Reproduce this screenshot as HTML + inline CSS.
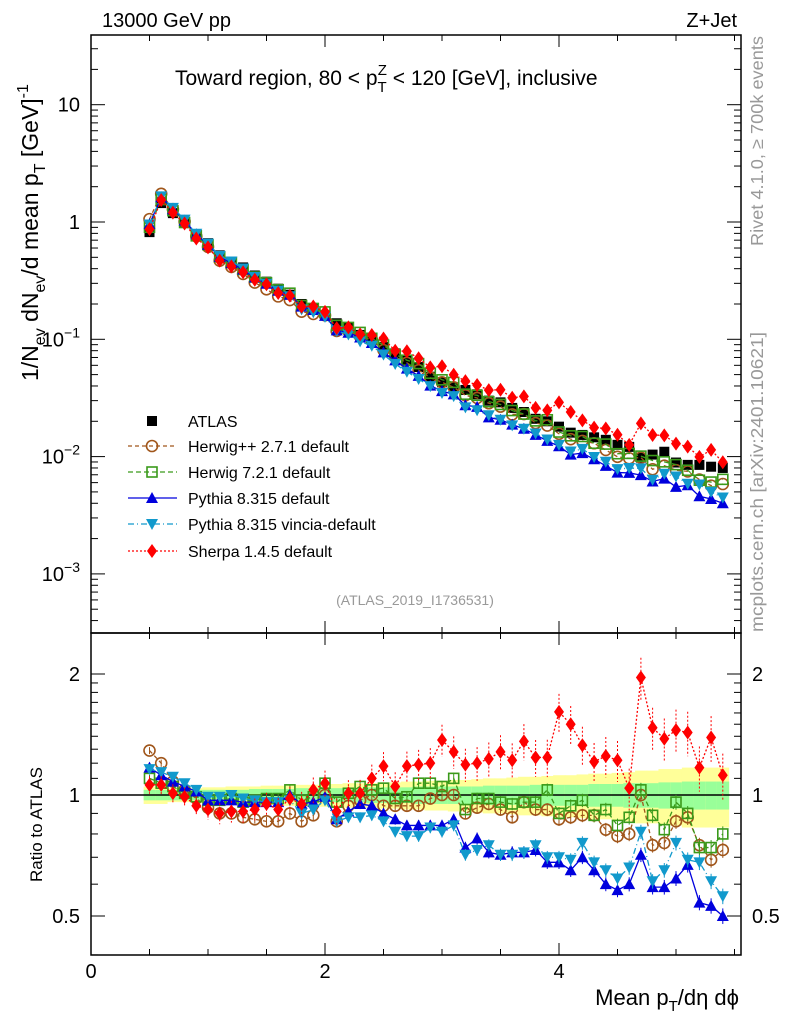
<!DOCTYPE html>
<html><head><meta charset="utf-8">
<style>
html,body{margin:0;padding:0;background:#fff;}
svg{display:block;font-family:"Liberation Sans","DejaVu Sans",sans-serif;}
</style></head>
<body>
<svg id="chart" width="786" height="1024" viewBox="0 0 786 1024" xmlns="http://www.w3.org/2000/svg">
<rect x="0" y="0" width="786" height="1024" fill="#fff"/>
<g id="bands"></g>
<g id="marks"></g>
<g id="axes"></g>
<text x="102" y="27" font-size="20">13000 GeV pp</text>
<text x="737" y="27" font-size="20" text-anchor="end">Z+Jet</text>
<text x="175" y="85" font-size="21">Toward region, 80 &lt; p<tspan font-size="15" dy="7">T</tspan><tspan font-size="15" dx="-9" dy="-17">Z</tspan><tspan dy="10"> &lt; 120 [GeV], inclusive</tspan></text>
<text x="415" y="605" font-size="14" fill="#999" text-anchor="middle">(ATLAS_2019_I1736531)</text>
<text transform="translate(763,246) rotate(-90)" font-size="17.5" fill="#999" textLength="210" lengthAdjust="spacingAndGlyphs">Rivet 4.1.0, ≥ 700k events</text>
<text transform="translate(763,632) rotate(-90)" font-size="17.5" fill="#999" textLength="300" lengthAdjust="spacingAndGlyphs">mcplots.cern.ch [arXiv:2401.10621]</text>
<text transform="translate(38,381) rotate(-90)" font-size="23">1/N<tspan font-size="16" dy="7">ev</tspan><tspan dy="-7"> dN</tspan><tspan font-size="16" dy="7">ev</tspan><tspan dy="-7">/d mean p</tspan><tspan font-size="16" dy="7">T</tspan><tspan dy="-7"> [GeV]</tspan><tspan font-size="16" dy="-10">-1</tspan></text>
<text transform="translate(42,882) rotate(-90)" font-size="17">Ratio to ATLAS</text>
<text x="739" y="1005" font-size="22" text-anchor="end">Mean p<tspan font-size="15" dy="6">T</tspan><tspan dy="-6">/dη dϕ</tspan></text>
<g id="legend"></g>
</svg>
<script>
const xCenters=[0.5,0.6,0.7,0.8,0.9,1.0,1.1,1.2,1.3,1.4,1.5,1.6,1.7,1.8,1.9,2.0,2.1,2.2,2.3,2.4,2.5,2.6,2.7,2.8,2.9,3.0,3.1,3.2,3.3,3.4,3.5,3.6,3.7,3.8,3.9,4.0,4.1,4.2,4.3,4.4,4.5,4.6,4.7,4.8,4.9,5.0,5.1,5.2,5.3,5.4];
const atlas=[0.82,1.45,1.19,0.98,0.77,0.66,0.52,0.46,0.41,0.35,0.31,0.27,0.24,0.20,0.185,0.16,0.137,0.125,0.109,0.099,0.086,0.076,0.067,0.058,0.048,0.043,0.039,0.037,0.034,0.030,0.029,0.026,0.024,0.021,0.020,0.018,0.016,0.0153,0.0146,0.0139,0.0126,0.0121,0.0098,0.0104,0.011,0.0089,0.0085,0.0085,0.0082,0.008];
const ratioHerwigPP=[1.29,1.20,1.08,1.03,0.98,0.93,0.90,0.90,0.88,0.87,0.86,0.86,0.90,0.86,0.89,1.00,0.86,0.94,0.97,1.00,0.94,0.94,0.94,0.94,0.98,1.00,1.00,0.90,0.93,0.95,0.92,0.88,0.96,0.92,0.92,0.87,0.88,0.89,0.89,0.82,0.79,0.80,1.00,0.75,0.76,0.86,0.88,0.75,0.69,0.73];
const ratioHerwig7=[1.10,1.07,1.05,1.01,0.99,0.97,0.97,0.98,0.96,0.97,0.98,0.98,1.03,0.97,0.99,1.07,0.96,1.01,1.05,1.03,1.04,0.98,0.99,1.07,1.07,1.05,1.10,0.92,0.98,0.98,0.96,0.95,0.96,0.96,1.03,0.90,0.94,0.97,0.89,0.92,0.84,0.88,1.03,0.89,0.82,0.96,0.90,0.74,0.74,0.80];
const ratioPythia=[1.17,1.12,1.08,1.05,1.02,0.97,0.97,0.97,0.96,0.96,0.96,0.96,1.00,0.95,0.96,0.99,0.87,0.91,0.95,0.94,0.90,0.87,0.84,0.84,0.84,0.84,0.87,0.74,0.78,0.72,0.71,0.72,0.72,0.73,0.68,0.68,0.65,0.70,0.65,0.60,0.58,0.60,0.71,0.59,0.59,0.62,0.67,0.54,0.53,0.50];
const ratioVincia=[1.16,1.14,1.11,1.07,1.03,0.99,0.99,1.00,0.98,0.97,0.96,0.96,0.97,0.90,0.92,0.97,0.86,0.88,0.88,0.89,0.86,0.81,0.79,0.79,0.83,0.81,0.84,0.71,0.73,0.75,0.71,0.71,0.72,0.75,0.70,0.70,0.69,0.76,0.68,0.65,0.62,0.66,0.81,0.61,0.65,0.76,0.69,0.68,0.61,0.56];
const ratioSherpa=[1.06,1.06,1.01,0.99,0.94,0.92,0.90,0.91,0.91,0.92,0.95,0.92,0.98,0.95,1.03,1.07,0.91,1.01,1.01,1.10,1.18,1.05,1.18,1.19,1.20,1.37,1.28,1.19,1.20,1.23,1.28,1.22,1.36,1.24,1.24,1.61,1.50,1.33,1.21,1.25,1.22,1.04,1.96,1.47,1.38,1.45,1.43,1.17,1.39,1.12];
const greenErr=[0.03,0.03,0.03,0.03,0.03,0.03,0.03,0.03,0.03,0.035,0.035,0.035,0.035,0.04,0.04,0.04,0.04,0.04,0.04,0.045,0.045,0.045,0.045,0.05,0.05,0.05,0.05,0.05,0.05,0.055,0.055,0.055,0.055,0.06,0.06,0.06,0.06,0.06,0.065,0.065,0.065,0.07,0.07,0.07,0.075,0.075,0.08,0.08,0.08,0.08];
const yellowErr=[0.05,0.05,0.04,0.04,0.04,0.045,0.045,0.05,0.05,0.05,0.055,0.055,0.06,0.06,0.06,0.065,0.065,0.07,0.07,0.07,0.075,0.075,0.08,0.08,0.085,0.085,0.09,0.09,0.095,0.10,0.10,0.105,0.11,0.11,0.115,0.12,0.12,0.125,0.13,0.13,0.135,0.14,0.15,0.15,0.16,0.16,0.17,0.17,0.17,0.17];
const xTicks=[0,2,4];
const yMainTicks=[-3,-2,-1,0,1];
const yRatioTicks=[0.5,1,2];

const NS="http://www.w3.org/2000/svg";
const L=91,R=741,T=35,MB=633,RB=955;
const xs=v=>L+v*117;
const ym=v=>222-117.3*Math.log10(v);
const yr=v=>795-121*Math.log2(v);
function mk(tag,attrs,parent){const e=document.createElementNS(NS,tag);for(const k in attrs)e.setAttribute(k,attrs[k]);parent.appendChild(e);return e;}
const bands=document.getElementById('bands'),marks=document.getElementById('marks'),axes=document.getElementById('axes'),legend=document.getElementById('legend');

xCenters.forEach((x,i)=>{
  const x0=xs(x-0.05),x1=xs(x+0.05);
  const yb=mk('rect',{x:x0,y:yr(1+yellowErr[i]),width:x1-x0+0.5,height:yr(1-yellowErr[i])-yr(1+yellowErr[i]),fill:'#ffff99'},bands);
  
  
  const gb=mk('rect',{x:x0,y:yr(1+greenErr[i]),width:x1-x0+0.5,height:yr(1-greenErr[i])-yr(1+greenErr[i]),fill:'#99ff99'},bands);
  
  
});
const unity=mk('line',{x1:L,x2:R,y1:yr(1),y2:yr(1),stroke:'#000','stroke-width':1.5},bands);



function marker(type,cx,cy,color,parent){
  let e;const s=5;
  if(type==='square') e=mk('rect',{x:cx-s,y:cy-s,width:2*s,height:2*s,fill:'#000'},parent);
  else if(type==='osquare') e=mk('rect',{x:cx-s,y:cy-s,width:2*s,height:2*s,fill:'none',stroke:color,'stroke-width':1.6},parent);
  else if(type==='circle') e=mk('circle',{cx:cx,cy:cy,r:5.5,fill:'none',stroke:color,'stroke-width':1.6},parent);
  else if(type==='tri') e=mk('polygon',{points:`${cx},${cy-6} ${cx-6},${cy+5} ${cx+6},${cy+5}`,fill:color},parent);
  else if(type==='itri') e=mk('polygon',{points:`${cx},${cy+6} ${cx-6},${cy-5} ${cx+6},${cy-5}`,fill:color},parent);
  else e=mk('polygon',{points:`${cx},${cy-7} ${cx-5},${cy} ${cx},${cy+7} ${cx+5},${cy}`,fill:color},parent);
  return e;
}
const series=[
 {name:'Herwig++ 2.7.1 default',r:ratioHerwigPP,color:'#a0561b',m:'circle',dash:'4,3',key:'herwigpp'},
 {name:'Herwig 7.2.1 default',r:ratioHerwig7,color:'#3a9a1a',m:'osquare',dash:'5,3',key:'herwig7'},
 {name:'Pythia 8.315 default',r:ratioPythia,color:'#0000dd',m:'tri',dash:'',key:'pythia'},
 {name:'Pythia 8.315 vincia-default',r:ratioVincia,color:'#1199cc',m:'itri',dash:'6,3,1,3',key:'vincia'},
 {name:'Sherpa 1.4.5 default',r:ratioSherpa,color:'#ff0000',m:'diamond',dash:'2,2',key:'sherpa'}
];
xCenters.forEach((x,i)=>{
  const e=marker('square',xs(x),ym(atlas[i]),'#000',marks);
  
  
});
series.forEach(s=>{
  const g=mk('g',{},marks);
  
  
  const pm=xCenters.map((x,i)=>`${xs(x)},${ym(atlas[i]*s.r[i])}`).join(' ');
  const pr=xCenters.map((x,i)=>`${xs(x)},${yr(s.r[i])}`).join(' ');
  const lm=mk('polyline',{points:pm,fill:'none',stroke:s.color,'stroke-width':1.3,'stroke-dasharray':s.dash},g);
  
  
  const lr=mk('polyline',{points:pr,fill:'none',stroke:s.color,'stroke-width':1.3,'stroke-dasharray':s.dash},g);
  
  
  xCenters.forEach((x,i)=>{
    const e1=marker(s.m,xs(x),ym(atlas[i]*s.r[i]),s.color,g);
    
    
    const err=s.key==='sherpa'?0.05*s.r[i]*(1+i/30):0.02*s.r[i]*(1+i/40);
    const eb=mk('line',{x1:xs(x),x2:xs(x),y1:yr(s.r[i]+err),y2:yr(s.r[i]-err),stroke:s.color,'stroke-width':1,'stroke-dasharray':s.key==='sherpa'?'2,2':''},g);
    
    
    const e2=marker(s.m,xs(x),yr(s.r[i]),s.color,g);
    
    
  });
});
[[T,MB],[MB,RB]].forEach(([a,b],k)=>{
  const f=mk('rect',{x:L,y:a,width:R-L,height:b-a,fill:'none',stroke:'#000','stroke-width':1.5},axes);
  
  
});
for(let v=0;v<=5.5;v+=0.5){
  const major=xTicks.includes(v);const len=major?12:6;
  [[T,1],[MB,-1],[MB,1],[RB,-1]].forEach(([y,d])=>{mk('line',{x1:xs(v),x2:xs(v),y1:y,y2:y+d*len,stroke:'#000','stroke-width':1},axes);});
}
xTicks.forEach(v=>{
  const t=mk('text',{x:xs(v),y:978,'font-size':20,'text-anchor':'middle'},axes);t.textContent=v;
  
  
});
for(let d=-4;d<=1;d++){
  for(let m=1;m<10;m++){
    const v=m*Math.pow(10,d);const y=ym(v);if(y<T||y>MB)continue;
    const len=m===1?14:7;
    mk('line',{x1:L,x2:L+len,y1:y,y2:y,stroke:'#000'},axes);
    mk('line',{x1:R,x2:R-len,y1:y,y2:y,stroke:'#000'},axes);
  }
}
yMainTicks.forEach(d=>{
  const t=mk('text',{x:80,y:ym(Math.pow(10,d))+7,'font-size':20,'text-anchor':'end'},axes);
  
  
  if(d===0)t.textContent='1';else if(d===1)t.textContent='10';
  else{t.textContent='10';const s=mk('tspan',{'font-size':14,dy:-9},t);s.textContent=String(d).replace('-','−');}
});
[0.4,0.5,0.6,0.7,0.8,0.9,1,2].forEach(v=>{
  const y=yr(v);if(y>RB)return;
  const len=yRatioTicks.includes(v)?14:7;
  mk('line',{x1:L,x2:L+len,y1:y,y2:y,stroke:'#000'},axes);
  mk('line',{x1:R,x2:R-len,y1:y,y2:y,stroke:'#000'},axes);
});
[1.1,1.2,1.3,1.4,1.5,1.6,1.7,1.8,1.9].forEach(v=>{const y=yr(v);mk('line',{x1:L,x2:L+7,y1:y,y2:y,stroke:'#000'},axes);mk('line',{x1:R,x2:R-7,y1:y,y2:y,stroke:'#000'},axes);});
yRatioTicks.forEach(v=>{
  [[80,'end'],[752,'start']].forEach(([x,a])=>{
    const t=mk('text',{x:x,y:yr(v)+7,'font-size':20,'text-anchor':a},axes);t.textContent=v;
    
    
  });
});
const legY=[421,446,472,498,524,551];
const le0=marker('square',152,legY[0],'#000',legend);


const lt0=mk('text',{x:188,y:legY[0]+6,'font-size':16},legend);lt0.textContent='ATLAS';


series.forEach((s,k)=>{
  const y=legY[k+1];
  mk('line',{x1:128,x2:177,y1:y,y2:y,stroke:s.color,'stroke-width':1.3,'stroke-dasharray':s.dash},legend);
  const m=marker(s.m,152,y,s.color,legend);
  
  
  const t=mk('text',{x:188,y:y+6,'font-size':16},legend);t.textContent=s.name;
  
  
});
</script>
</body></html>
